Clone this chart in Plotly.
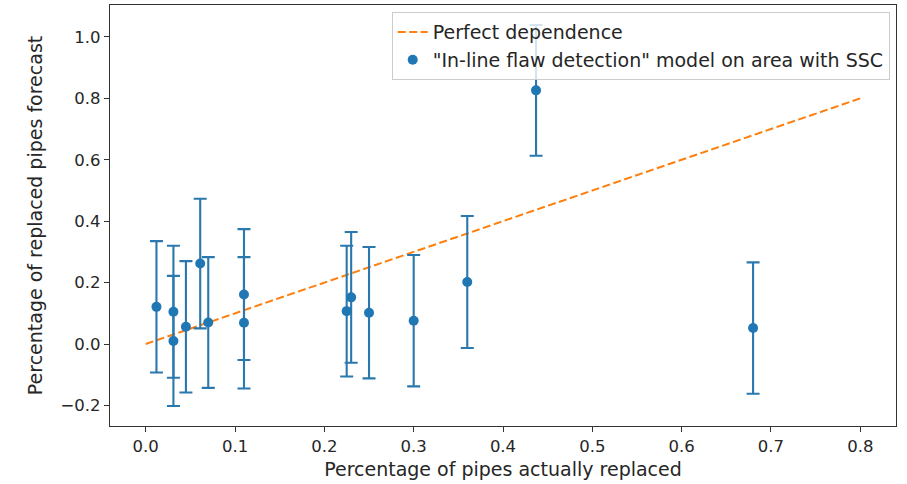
import plotly.graph_objects as go

# Data
actual = [0.012, 0.031, 0.031, 0.045, 0.061, 0.070, 0.110, 0.110, 0.225, 0.230, 0.250, 0.300, 0.360, 0.437, 0.680]
forecast = [0.121, 0.105, 0.010, 0.056, 0.262, 0.070, 0.161, 0.069, 0.107, 0.152, 0.102, 0.076, 0.202, 0.826, 0.052]
error = [0.214, 0.215, 0.212, 0.214, 0.211, 0.213, 0.213, 0.214, 0.213, 0.213, 0.214, 0.214, 0.215, 0.213, 0.214]

perfect_x = [0.0, 0.8]
perfect_y = [0.0, 0.8]

x_ticks = [0.0, 0.1, 0.2, 0.3, 0.4, 0.5, 0.6, 0.7, 0.8]
y_ticks = [-0.2, 0.0, 0.2, 0.4, 0.6, 0.8, 1.0]

BLUE = "#1f77b4"
ERR = "#2a78ad"
ORANGE = "#ff7f0e"
FONT = "DejaVu Sans"
TXT = "#262626"

fig = go.Figure()

fig.add_trace(go.Scatter(
    x=perfect_x, y=perfect_y, mode="lines",
    line=dict(color=ORANGE, width=2, dash="8px,3.5px"),
    name="Perfect dependence",
))

fig.add_trace(go.Scatter(
    x=actual, y=forecast, mode="markers",
    marker=dict(color=BLUE, size=10),
    error_y=dict(type="data", array=error, visible=True, color=ERR,
                 thickness=2.1, width=6.5),
    name='"In-line flaw detection" model on area with SSC',
))

axis_common = dict(
    showgrid=False, zeroline=False, showline=True, linecolor="#333333",
    linewidth=1.2, mirror=True, ticks="outside", ticklen=5, tickwidth=1.2,
    tickcolor="#333333", tickfont=dict(family=FONT, size=16.5, color=TXT),
)

fig.update_xaxes(
    range=[-0.04, 0.84], tickvals=x_ticks,
    ticktext=[f"{v:.1f}" for v in x_ticks],
    title=dict(text="Percentage of pipes actually replaced",
               font=dict(family=FONT, size=19, color=TXT), standoff=7),
    **axis_common,
)
fig.update_yaxes(
    range=[-0.267, 1.104], tickvals=y_ticks,
    ticktext=[("\u22120.2" if v < 0 else f"{v:.1f}") for v in y_ticks],
    title=dict(text="Percentage of replaced pipes forecast",
               font=dict(family=FONT, size=19, color=TXT), standoff=12),
    **axis_common,
)

fig.update_layout(
    width=907, height=484,
    margin=dict(l=110, r=11, t=5, b=58),
    paper_bgcolor="white", plot_bgcolor="white",
    font=dict(family=FONT, size=19, color=TXT),
    legend=dict(
        x=0.992, y=0.983, xanchor="right", yanchor="top",
        bgcolor="rgba(255,255,255,0.8)", bordercolor="#cccccc", borderwidth=1,
        font=dict(family=FONT, size=19, color=TXT),
        itemwidth=30,
    ),
    showlegend=True,
)

fig.write_html("out.html")
